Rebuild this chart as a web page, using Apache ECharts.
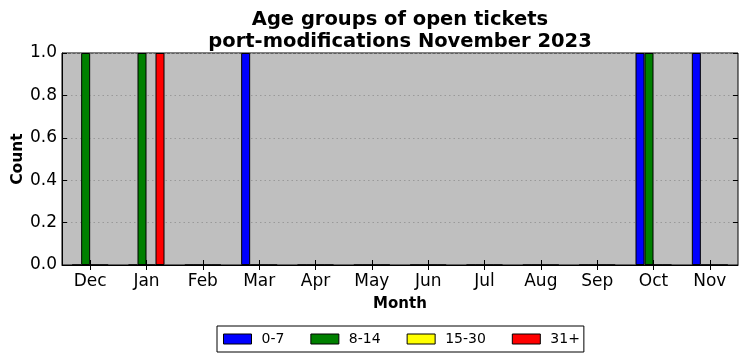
<!DOCTYPE html>
<html><head><meta charset="utf-8">
<script src="https://cdn.jsdelivr.net/npm/echarts@6/dist/echarts.min.js"></script>
<style>html,body{margin:0;padding:0;background:#fff}#c{width:747px;height:361px}</style>
</head><body><div id="c"></div>
<script>
var months = ['Dec','Jan','Feb','Mar','Apr','May','Jun','Jul','Aug','Sep','Oct','Nov'];
var seriesNames = ['0-7','8-14','15-30','31+'];
var colors = ['#0000ff','#008000','#ffff00','#ff0000'];
var v0_7   = [0,0,0,1,0,0,0,0,0,0,1,1];
var v8_14  = [1,1,0,0,0,0,0,0,0,0,1,0];
var v15_30 = [0,0,0,0,0,0,0,0,0,0,0,0];
var v31p   = [0,1,0,0,0,0,0,0,0,0,0,0];
var yTicks = [0,0.2,0.4,0.6,0.8,1.0];
var allVals = [v0_7, v8_14, v15_30, v31p];

var F = 'DejaVu Sans';
var chart = echarts.init(document.getElementById('c'), null, {renderer:'canvas'});
var series = allVals.map(function(vals, i){
  return {
    name: seriesNames[i], type:'bar', data: vals, barWidth: 9, barGap: '0%',
    itemStyle:{color: colors[i], borderColor:'#000', borderWidth:1},
    xAxisIndex:0, yAxisIndex:0, animation:false
  };
});
chart.setOption({
  animation:false,
  textStyle:{fontFamily:F},
  title:{
    text:'Age groups of open tickets\nport-modifications November 2023',
    left:395, top:4, textAlign:'center',
    textStyle:{fontFamily:F, fontSize:19.5, fontWeight:'bold', color:'#000', lineHeight:22}
  },
  legend:{
    data: seriesNames.map(function(n){return {name:n, icon:'rect'};}),
    left:217, top:326, orient:'horizontal',
    itemWidth:28, itemHeight:10, itemGap:26,
    borderColor:'#000', borderWidth:1, padding:[6,4,6,6],
    textStyle:{fontFamily:F, fontSize:14, color:'#000', padding:[0,0,0,5]},
    itemStyle:{borderColor:'#000', borderWidth:1}
  },
  grid:{left:62, right:9, top:53, bottom:96, outerBoundsMode:'none', containLabel:false,
        backgroundColor:'#bfbfbf', show:true, borderColor:'#000', borderWidth:1},
  xAxis:[{
    type:'category', data: months, position:'bottom',
    name:'Month', nameLocation:'middle', nameGap:32,
    nameTextStyle:{fontFamily:F, fontSize:15, fontWeight:'bold', color:'#000'},
    axisLine:{show:true, lineStyle:{color:'#000', width:1}},
    axisTick:{show:true, inside:true, length:5, alignWithLabel:true, lineStyle:{color:'#000'}},
    axisLabel:{fontFamily:F, fontSize:17, color:'#000', margin:8},
    splitLine:{show:false}
  },{
    type:'category', data: months, position:'top',
    axisLine:{show:false},
    axisTick:{show:true, inside:true, length:5, alignWithLabel:true, lineStyle:{color:'#000'}},
    axisLabel:{show:false}, splitLine:{show:false}
  }],
  yAxis:[{
    type:'value', min:0, max:1, interval:0.2, position:'left',
    name:'Count', nameLocation:'middle', nameGap:36, nameRotate:90, nameMoveOverlap:false,
    nameTextStyle:{fontFamily:F, fontSize:15.5, fontWeight:'bold', color:'#000'},
    axisLine:{show:true, lineStyle:{color:'#000'}},
    axisTick:{show:true, inside:true, length:5, lineStyle:{color:'#000'}},
    axisLabel:{fontFamily:F, fontSize:17, color:'#000', margin:5, formatter:function(v){return v.toFixed(1);}},
    splitLine:{show:true, lineStyle:{color:'#999999', type:[1.5,3], width:1}}
  },{
    type:'value', min:0, max:1, interval:0.2, position:'right',
    axisLine:{show:false},
    axisTick:{show:true, inside:true, length:5, lineStyle:{color:'#000'}},
    axisLabel:{show:false}, splitLine:{show:false}
  }],
  series: series
});
</script></body></html>
